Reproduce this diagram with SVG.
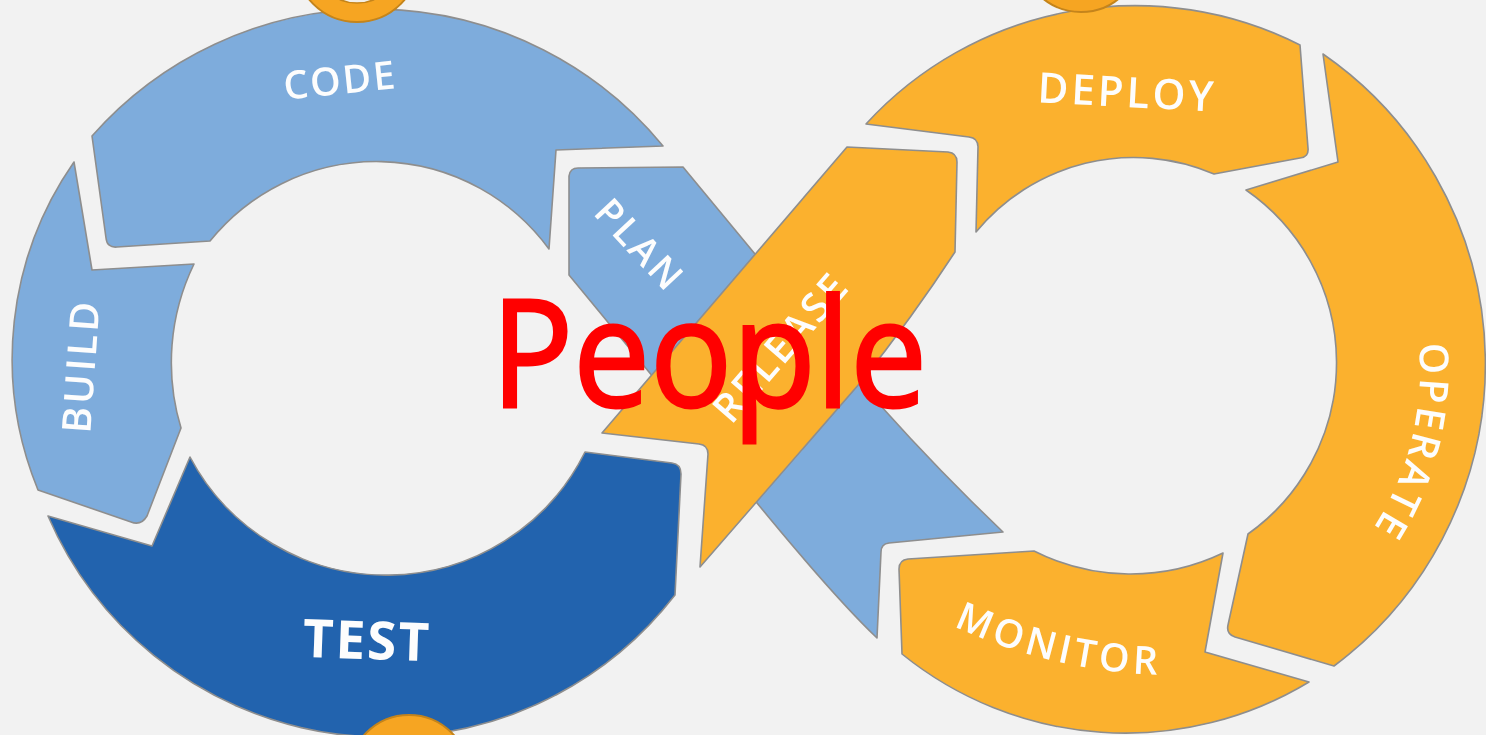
<svg xmlns="http://www.w3.org/2000/svg" width="1486" height="735" viewBox="0 0 1486 735">
  <defs>
    <style>
      .seg{stroke:#8e8e8e;stroke-width:1.6;stroke-linejoin:round}
      .lb{fill:#7eacdc}
      .db{fill:#2163ae}
      .or{fill:#fbb12d}
      .lbl{font-family:"Open Sans","Liberation Sans",sans-serif;font-weight:600;fill:#fdfdfd}
      .dot{fill:#f6a523;stroke:#c4841a;stroke-width:2}
      .hole{fill:#f3efe6;stroke:#c4841a;stroke-width:1.5}
    </style>
    <filter id="soft" x="-5%" y="-5%" width="110%" height="110%">
      <feGaussianBlur stdDeviation="0.6"/>
    </filter>
    <!-- baselines for the curved labels of the right loop -->
    <path id="arc-operate" d="M1330.8,160 A292,292 0 0 1 1208.5,650.7" fill="none"/>
    <path id="arc-monitor" d="M873.9,580.1 A525,525 0 0 0 1310.9,657.1" fill="none"/>
  </defs>

  <rect width="1486" height="735" fill="#f2f2f2"/>

  <g filter="url(#soft)">
    <!-- left loop -->
    <g id="code">
      <path class="seg lb" d="M92,136 A375,375 0 0 1 663,146 L556,150 L549,249 A214,214 0 0 0 210,241 L117,247 Q107,248 106,238 Z"/>
      <text class="lbl" x="340" y="94" font-size="39" letter-spacing="2" text-anchor="middle" transform="rotate(-6 340 80)">CODE</text>
    </g>
    <g id="build">
      <path class="seg lb" d="M74,162 L92,270 L194,264 A226,226 0 0 0 181,428 L147,516 Q141,526 131,522 L38,490 A345,345 0 0 1 74,162 Z"/>
      <text class="lbl" x="0" y="14" font-size="40" letter-spacing="3" text-anchor="middle" transform="translate(81 366) rotate(-86)">BUILD</text>
    </g>
    <g id="test">
      <path class="seg db" d="M48,516 L152,546 L190,457 A222,222 0 0 0 585,452 L672,463 Q681,464 681,474 L675,595 A367,367 0 0 1 48,516 Z"/>
      <text class="lbl" x="367" y="659" font-size="53" letter-spacing="2" text-anchor="middle" transform="rotate(2 367 640)" style="font-weight:700">TEST</text>
    </g>

    <!-- right loop -->
    <g id="deploy">
      <path class="seg or" d="M866,124 A365,365 0 0 1 1300,45 L1308,148 Q1309,157 1300,158 L1214,174 A204,204 0 0 0 976,232 L978,147 Q978,138 969,137 Z"/>
      <text class="lbl" x="1127" y="107" font-size="42" letter-spacing="3" text-anchor="middle" transform="rotate(3 1127 92)">DEPLOY</text>
    </g>
    <g id="operate">
      <path class="seg or" d="M1323,54 L1338,162 L1246,190 A210,210 0 0 1 1248,534 L1228,625 Q1226,634 1235,637 L1334,666 A377,377 0 0 0 1323,54 Z"/>
      <text class="lbl" font-size="40" letter-spacing="3" text-anchor="middle"><textPath href="#arc-operate" startOffset="50%">OPERATE</textPath></text>
    </g>
    <g id="monitor">
      <path class="seg or" d="M1309,682 L1205,652 L1223,553 A214,214 0 0 1 1034,551 L908,559 Q899,560 899,569 L902,654 A355,355 0 0 0 1309,682 Z"/>
      <text class="lbl" font-size="39" letter-spacing="4" text-anchor="middle"><textPath href="#arc-monitor" startOffset="43.5%">MONITOR</textPath></text>
    </g>

    <!-- crossing ribbons -->
    <g id="plan">
      <path class="seg lb" d="M578,168 L683,167 L880,405 Q940,472 1003,532 L889,543 Q881,544 881,552 L877,638 Q835,598 757,503 L569,275 L569,176 Q570,168 578,168 Z"/>
      <text class="lbl" x="640" y="258.6" font-size="38" letter-spacing="3" text-anchor="middle" transform="rotate(47 640 245)">PLAN</text>
    </g>
    <g id="release">
      <path class="seg or" d="M602,433 L699,444 Q708,445 708,454 L700,567 L860,383 Q912,318 955,252 L957,162 Q957,153 948,152 L847,147 Z"/>
      <text class="lbl" x="781" y="361" font-size="40" letter-spacing="3" text-anchor="middle" transform="rotate(-49 781 347)">RELEASE</text>
    </g>

    <!-- round badges on the loop edges -->
    <g id="badge-left-top">
      <circle class="dot" cx="357" cy="-40" r="62"/>
      <circle class="hole" cx="357" cy="-40" r="43"/>
    </g>
    <g id="badge-right-top">
      <circle class="dot" cx="1081" cy="-48" r="60"/>
    </g>
    <g id="badge-bottom">
      <circle class="dot" cx="409" cy="775" r="60"/>
    </g>
  </g>

  <g id="people">
    <text x="709" y="407" font-family="'Open Sans','Liberation Sans',sans-serif" font-weight="400" font-size="151" fill="#ff0000" stroke="#ff0000" stroke-width="3" stroke-linejoin="miter" text-anchor="middle" textLength="436" lengthAdjust="spacingAndGlyphs">People</text>
  </g>
  <g id="connectors"/>
</svg>
